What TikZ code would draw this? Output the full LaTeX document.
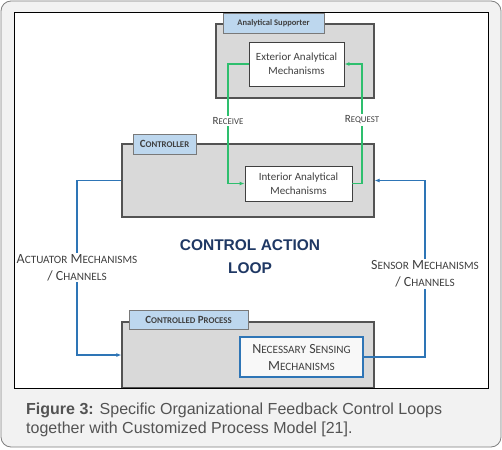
\documentclass[tikz,border=0pt]{standalone}
\usepackage{fontspec}
\setmainfont{Carlito}
\newfontfamily\capfont{Liberation Sans}
\usetikzlibrary{arrows.meta,positioning}
\definecolor{Frame}{HTML}{7F7F7F}
\definecolor{Page}{HTML}{F2F2F2}
\definecolor{Panel}{HTML}{D9D9D9}
\definecolor{Tab}{HTML}{BDD7EE}
\definecolor{Wire}{HTML}{2E75B6}
\definecolor{Leaf}{HTML}{2EBF6E}
\definecolor{Navy}{HTML}{1F3864}
\definecolor{Ink}{HTML}{404040}
% small capitals drawn from upper case letters
\makeatletter
\newcommand\lowcap[1]{{\@tempdima=\f@size pt\@tempdima=0.8\@tempdima
  \fontsize{\strip@pt\@tempdima}{\f@baselineskip}\selectfont\uppercase{#1}}}
\makeatother

\begin{document}
\begin{tikzpicture}[x=1pt,y=-1pt,
  panel/.style={draw=Ink!90,fill=Panel,line width=1.2pt,inner sep=0pt},
  tab/.style={draw=Ink!70,fill=Tab,line width=0.8pt,inner sep=0pt,text=Ink,font=\fontsize{8.5}{10}\selectfont\bfseries},
  mech/.style={draw=Ink,fill=white,line width=0.9pt,inner sep=0pt,align=center,text=Ink,font=\fontsize{11}{14}\selectfont},
  tag/.style={fill=white,inner sep=1.5pt,align=center,text=Ink,font=\fontsize{14}{17}\selectfont},
  greenarrow/.style={-{Latex[length=5pt,width=4pt]},color=Leaf,line width=1.2pt},
  bluearrow/.style={-{Latex[length=5pt,width=4pt]},color=Wire,line width=1.1pt}
]
\useasboundingbox (0,0) rectangle (502,449);
\draw[draw=Frame,fill=Page,rounded corners=10pt,line width=0.8pt] (1,1) rectangle (501,447);
\fill[white] (14,12) rectangle (488,388);

% analytical supporter
\node[panel,minimum width=158pt,minimum height=74pt] (sup) at (295,61) {};
\node[tab,minimum width=101pt,minimum height=20pt] (suptab) at (273.5,23) {Analytical Supporter};
\node[mech,minimum width=95pt,minimum height=44pt] (ext) at (296.5,64) {Exterior Analytical\\Mechanisms};

% controller
\node[panel,minimum width=252pt,minimum height=73pt] (ctrl) at (248,180.5) {};
\node[tab,minimum width=63pt,minimum height=20pt,font=\fontsize{11}{12}\selectfont\bfseries] (ctrltab) at (164.5,144) {C\lowcap{ontroller}};
\node[mech,minimum width=107pt,minimum height=35pt] (int) at (298.5,183.5) {Interior Analytical\\Mechanisms};

% controlled process
\node[panel,minimum width=252pt,minimum height=66pt] (proc) at (248,355) {};
\node[tab,minimum width=119pt,minimum height=19pt,font=\fontsize{11}{12}\selectfont\bfseries] (proctab) at (188.5,319.5) {C\lowcap{ontrolled} P\lowcap{rocess}};
\node[mech,draw=Wire,fill=Page!50,line width=1.3pt,minimum width=123pt,minimum height=40pt,font=\fontsize{14}{17}\selectfont] (sense) at (301.5,357) {N\lowcap{ecessary} S\lowcap{ensing}\\M\lowcap{echanisms}};

\node[font=\capfont\bfseries\fontsize{15.5}{23}\selectfont,text=Navy,align=center] (loop) at (250,256.5) {CONTROL ACTION\\LOOP};

% where the wires turn
\coordinate (recvpt) at (228,121);
\coordinate (reqstpt) at (362,120);
\coordinate (actpt) at (77,267.5);
\coordinate (senspt) at (425,274);

\draw[greenarrow] (ext.west) -| (recvpt) |- (int.west);
\draw[greenarrow] (int.east) -| (reqstpt) |- (ext.east);
\draw[bluearrow] (ctrl.west) -| (actpt) |- (proc.west);
\draw[bluearrow] (sense.east) -| (senspt) |- (ctrl.east);

% labels on the wires
\node[tag,font=\fontsize{11}{12}\selectfont] (recv) at (recvpt) {R\lowcap{eceive}};
\node[tag,font=\fontsize{11}{12}\selectfont] (reqst) at (reqstpt) {R\lowcap{equest}};
\node[tag] (act) at (actpt) {A\lowcap{ctuator} M\lowcap{echanisms}\\/ C\lowcap{hannels}};
\node[tag] (sens) at (senspt) {S\lowcap{ensor} M\lowcap{echanisms}\\/ C\lowcap{hannels}};

\draw[line width=0.9pt] (14,12) rectangle (488,388);

% caption
\node[anchor=north west,align=left,inner sep=0pt,font=\capfont\fontsize{16}{19}\selectfont,text=Ink!90] (cap) at (26,402.5) {\textbf{Figure 3:} Specific Organizational Feedback Control Loops\\together with Customized Process Model [21].};
\end{tikzpicture}
\end{document}
